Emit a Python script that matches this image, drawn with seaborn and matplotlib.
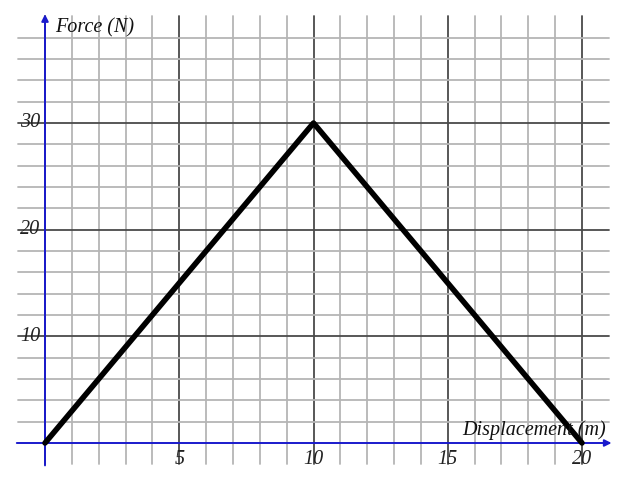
import numpy as np
import pandas as pd
import matplotlib
matplotlib.use("Agg")
import matplotlib.pyplot as plt
import seaborn as sns

sns.set_theme(style="white")
plt.rcParams['font.family'] = ['Liberation Serif', 'DejaVu Serif']

# data
displacement = [0, 10, 20]
force = [0, 30, 0]
x_ticks = [5, 10, 15, 20]
y_ticks = [10, 20, 30]

df = pd.DataFrame({'Displacement': displacement, 'Force': force})

fig = plt.figure(figsize=(6.4, 4.99), dpi=100)
ax = fig.add_axes([0, 0, 1, 1])
ax.set_xlim(-1.676, 22.16)
ax.set_ylim(-5.25, 41.53)
ax.axis('off')

# grid paper
for gx in range(0, 21):
    major = gx % 5 == 0
    ax.plot([gx, gx], [-2, 40], color='#4a4a4a' if major else '#b5b5b5',
            lw=1.3, zorder=1)
for gy in range(2, 40, 2):
    major = gy % 10 == 0
    ax.plot([-1, 21], [gy, gy], color='#4a4a4a' if major else '#b5b5b5',
            lw=1.3, zorder=1)

# axes in blue with arrows
ax.annotate('', xy=(21.1, 0), xytext=(-1.05, 0),
            arrowprops=dict(arrowstyle='-|>', color='#1a1acc', lw=1.4,
                            mutation_scale=10, shrinkA=0, shrinkB=0), zorder=3)
ax.annotate('', xy=(0, 40.2), xytext=(0, -2.1),
            arrowprops=dict(arrowstyle='-|>', color='#1a1acc', lw=1.4,
                            mutation_scale=10, shrinkA=0, shrinkB=0), zorder=3)

sns.lineplot(data=df, x='Displacement', y='Force', color='black', lw=4,
             ax=ax, zorder=4, legend=False)

for t in x_ticks:
    ax.text(t, -1.55, str(t), ha='center', va='center', fontsize=14.5,
            style='italic', color='#222222', zorder=5)
for t in y_ticks:
    ax.text(-0.18, t, str(t), ha='right', va='center', fontsize=14.5,
            style='italic', color='#222222', zorder=5)

ax.text(0.37, 38.9, 'Force (N)', ha='left', va='center', fontsize=14.5,
        style='italic', color='#111111', zorder=5)
ax.text(20.9, 1.25, 'Displacement (m)', ha='right', va='center', fontsize=14.5,
        style='italic', color='#111111', zorder=5)

fig.savefig('out.png', dpi=100, facecolor='white')
